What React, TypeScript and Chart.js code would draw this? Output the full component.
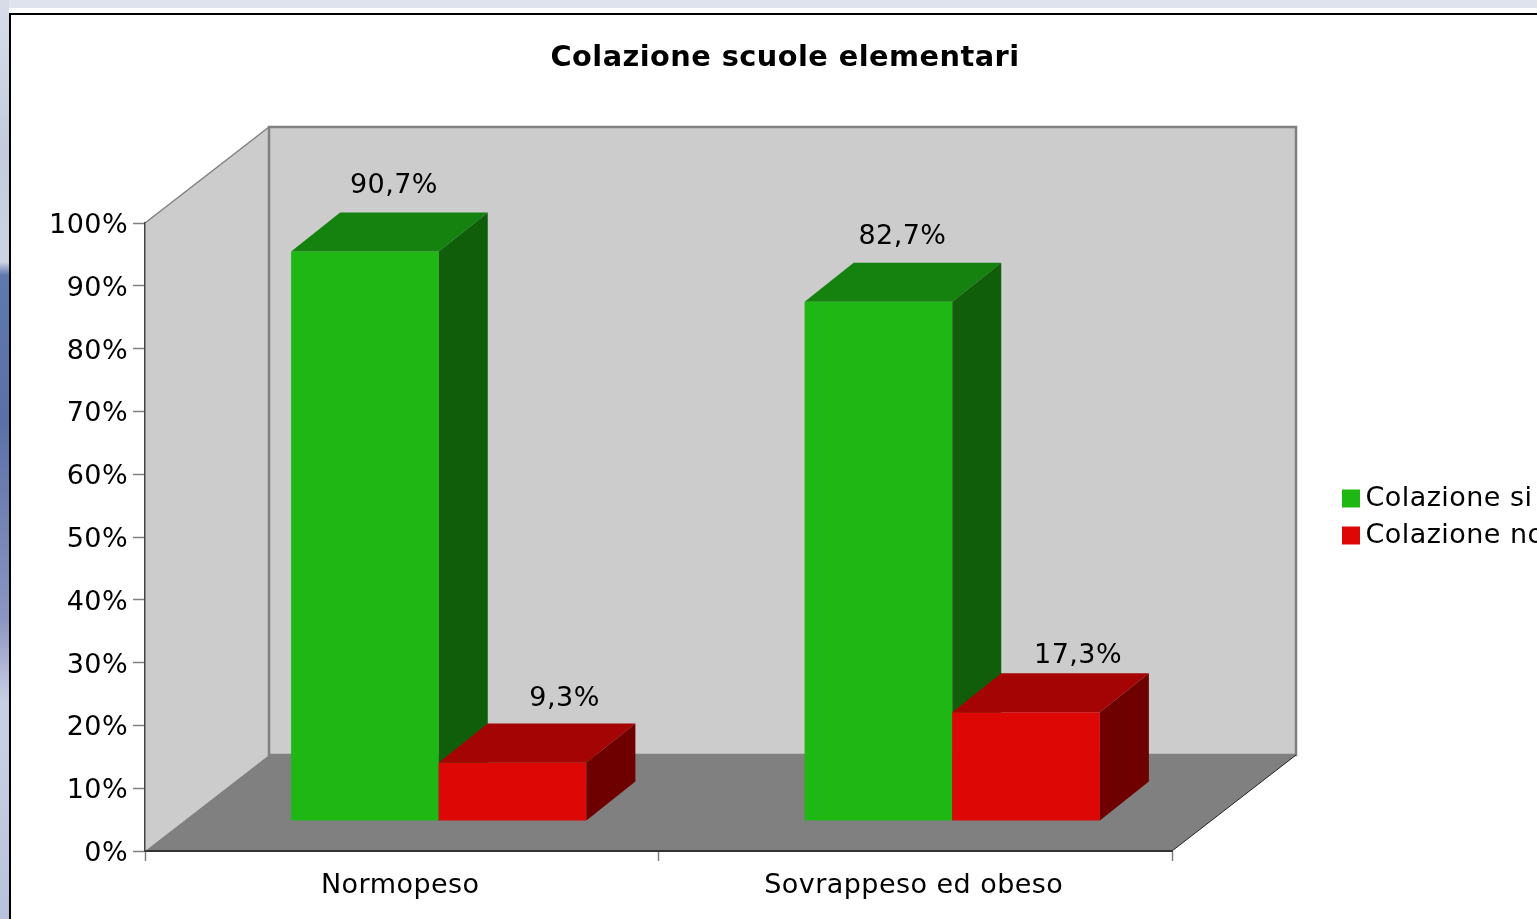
import React, { useEffect, useRef } from "react";
import { Chart, registerables } from "chart.js";

Chart.register(...registerables);

const title = "Colazione scuole elementari";
const categories = ["Normopeso", "Sovrappeso ed obeso"];
const colazioneSi = [90.7, 82.7];
const colazioneNo = [9.3, 17.3];
const seriesNames = ["Colazione si", "Colazione no"];
const seriesColors = ["#1FB714", "#DD0806"];
const topColors = ["#158210", "#A40504"];
const sideColors = ["#105E0A", "#6E0000"];
const valueLabels = [
  ["90,7%", "82,7%"],
  ["9,3%", "17,3%"],
];
const labelShiftX = [
  [29, 24],
  [52, 52],
];
const labelLift = [
  [26, 26],
  [25, 17],
];

const WALL = { dx: 124, dy: 96 };
const BAR_SHIFT = { dx: 37, dy: -30 };
const BAR_DEPTH = { dx: 49, dy: 39 };
const FONT = "'DejaVu Sans', sans-serif";
const SPACING = "0.45px";

function poly(ctx: CanvasRenderingContext2D, pts: number[][], fill: string | null, stroke?: string, w = 1) {
  ctx.beginPath();
  pts.forEach((p, i) => (i ? ctx.lineTo(p[0], p[1]) : ctx.moveTo(p[0], p[1])));
  ctx.closePath();
  if (fill) {
    ctx.fillStyle = fill;
    ctx.fill();
  }
  if (stroke) {
    ctx.strokeStyle = stroke;
    ctx.lineWidth = w;
    ctx.stroke();
  }
}

const scene3d = {
  id: "scene3d",
  beforeDraw(chart: any) {
    const { ctx, chartArea: a } = chart;
    const { dx, dy } = WALL;
    (ctx as any).letterSpacing = SPACING;
    ctx.save();
    poly(ctx, [[a.left, a.top], [a.left + dx, a.top - dy], [a.left + dx, a.bottom - dy], [a.left, a.bottom]], "#CCCCCC");
    poly(ctx, [[a.left + dx, a.top - dy], [a.right + dx, a.top - dy], [a.right + dx, a.bottom - dy], [a.left + dx, a.bottom - dy]], "#CCCCCC", "#808080", 2.5);
    ctx.beginPath();
    ctx.moveTo(a.left, a.top);
    ctx.lineTo(a.left + dx, a.top - dy);
    ctx.strokeStyle = "#808080";
    ctx.lineWidth = 1.5;
    ctx.stroke();
    poly(ctx, [[a.left, a.bottom], [a.left + dx, a.bottom - dy], [a.right + dx, a.bottom - dy], [a.right, a.bottom]], "#808080");
    ctx.beginPath();
    ctx.moveTo(a.right, a.bottom);
    ctx.lineTo(a.right + dx, a.bottom - dy);
    ctx.strokeStyle = "#222222";
    ctx.lineWidth = 1;
    ctx.stroke();
    ctx.restore();
  },
  // the library's own bar controllers are drawn here, first series first,
  // so that each bar's depth faces overlap correctly
  beforeDatasetDraw() {
    return false;
  },
  beforeDatasetsDraw(chart: any) {
    const { ctx } = chart;
    const { dx, dy } = BAR_DEPTH;
    chart.data.datasets.forEach((_: any, i: number) => {
      const meta = chart.getDatasetMeta(i);
      ctx.save();
      ctx.translate(BAR_SHIFT.dx, BAR_SHIFT.dy);
      meta.controller.draw();
      meta.data.forEach((el: any) => {
        const l = el.x - el.width / 2;
        const r = el.x + el.width / 2;
        poly(ctx, [[l, el.y], [l + dx, el.y - dy], [r + dx, el.y - dy], [r, el.y]], topColors[i]);
        poly(ctx, [[r, el.y], [r + dx, el.y - dy], [r + dx, el.base - dy], [r, el.base]], sideColors[i]);
      });
      ctx.restore();
    });
  },
  afterDatasetsDraw(chart: any) {
    const { ctx } = chart;
    ctx.save();
    ctx.fillStyle = "#000";
    ctx.font = `27px ${FONT}`;
    ctx.textAlign = "center";
    ctx.textBaseline = "middle";
    valueLabels.forEach((row, i) => {
      chart.getDatasetMeta(i).data.forEach((el: any, j: number) => {
        ctx.fillText(row[j], el.x + BAR_SHIFT.dx + labelShiftX[i][j], el.y + BAR_SHIFT.dy - BAR_DEPTH.dy - labelLift[i][j]);
      });
    });
    ctx.restore();
  },
  afterLayout(chart: any) {
    const tb = chart.titleBlock;
    tb.left = 0;
    tb.right = chart.width;
    tb.width = chart.width;
    const lg = chart.legend;
    const pad = lg.options.labels.padding;
    lg.left = 1340 - pad;
    lg.right = lg.left + 400;
    lg.top = 485 - pad;
    lg.bottom = lg.top + 200;
    lg.width = 400;
    lg.height = 200;
  },
};

export default function App() {
  const ref = useRef<HTMLCanvasElement>(null);
  useEffect(() => {
    const chart = new Chart(ref.current as HTMLCanvasElement, {
      type: "bar",
      data: {
        labels: categories,
        datasets: [
          { label: seriesNames[0], data: colazioneSi, backgroundColor: seriesColors[0] },
          { label: seriesNames[1], data: colazioneNo, backgroundColor: seriesColors[1] },
        ],
      },
      plugins: [scene3d],
      options: {
        responsive: false,
        animation: false,
        events: [],
        clip: false,
        font: { family: FONT },
        categoryPercentage: 0.575,
        barPercentage: 1,
        layout: { padding: { left: 0, right: 388, top: 0, bottom: 0 } },
        scales: {
          x: {
            afterFit: (s: any) => { s.height = 68; },
            grid: { drawOnChartArea: false, drawTicks: true, tickLength: 10, tickColor: "#808080", tickWidth: 1.5 },
            border: { display: true, color: "#333333", width: 2 },
            ticks: { color: "#000", font: { family: FONT, size: 27 }, padding: 9, maxRotation: 0, labelOffset: -1.5 },
          },
          y: {
            min: 0,
            max: 100,
            afterFit: (s: any) => { s.width = 135; },
            grid: { drawOnChartArea: false, drawTicks: true, tickLength: 12, tickColor: "#808080", tickWidth: 1.5 },
            border: { display: true, color: "#444444", width: 1.5 },
            ticks: { stepSize: 10, color: "#000", font: { family: FONT, size: 27 }, padding: 5, labelOffset: 3, callback: (v: any) => `${v}%` },
          },
        },
        plugins: {
          tooltip: { enabled: false },
          title: {
            display: true,
            text: title,
            color: "#000",
            font: { family: FONT, size: 28.8, weight: "bold" },
            padding: { top: 41, bottom: 147.44 },
          },
          legend: {
            position: "chartArea",
            align: "start",
            labels: {
              color: "#000",
              font: { family: FONT, size: 27 },
              boxWidth: 2,
              boxHeight: 2,
              padding: 10,
              generateLabels: (c: any) =>
                c.data.datasets.map((d: any, i: number) => ({
                  text: d.label,
                  fillStyle: d.backgroundColor,
                  strokeStyle: d.backgroundColor,
                  lineWidth: 16,
                  datasetIndex: i,
                  hidden: false,
                })),
            },
          },
        },
      } as any,
    });
    return () => chart.destroy();
  }, []);

  return (
    <div
      style={{
        position: "fixed",
        inset: 0,
        overflow: "hidden",
        background: "linear-gradient(180deg,#d8dde8 0px,#c3cbdc 150px,#cdd3e2 262px,#5f78b0 275px,#5a70a8 420px,#8c96c0 620px,#c8cee4 700px,#c8cee4 750px,#b8c2dc 919px)",
      }}
    >
      <div style={{ position: "absolute", left: 9, top: 0, right: 0, height: 8, background: "#dfe3ee" }} />
      <div style={{ position: "absolute", left: 9, top: 8, right: 0, bottom: 0, background: "#fff" }} />
      <div style={{ position: "absolute", left: 9, top: 13, right: 0, height: 2, background: "#000" }} />
      <div style={{ position: "absolute", left: 9, top: 13, bottom: 0, width: 1.5, background: "#000" }} />
      <canvas ref={ref} width={1550} height={919} style={{ position: "absolute", left: 10, top: 0, display: "block" }} />
    </div>
  );
}
